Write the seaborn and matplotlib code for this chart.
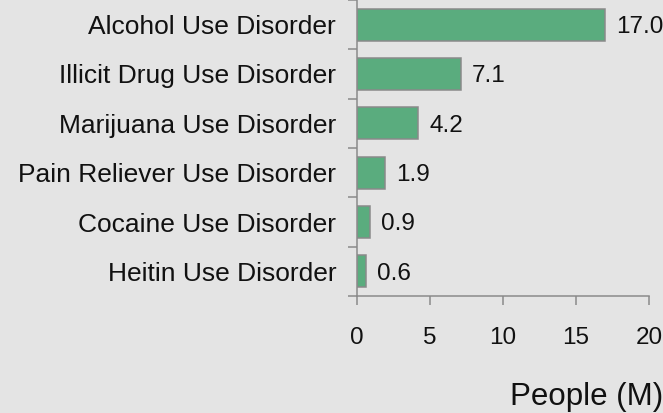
import numpy as np
import pandas as pd
import matplotlib
matplotlib.use("Agg")
import matplotlib.pyplot as plt
import seaborn as sns

# datos
categorias = ["Alcohol Use Disorder", "Illicit Drug Use Disorder", "Marijuana Use Disorder",
              "Pain Reliever Use Disorder", "Cocaine Use Disorder", "Heitin Use Disorder"]
personas = [17.0, 7.1, 4.2, 1.9, 0.9, 0.6]
ticks_x = [0, 5, 10, 15, 20]

fondo = "#e4e4e4"
gris = "#8a8a8a"
verde = "#5aac7e"

sns.set_style("white")
plt.rcParams["font.family"] = ["Liberation Sans", "DejaVu Sans"]

datos = pd.DataFrame({"categoria": categorias, "personas": personas})

fig = plt.figure(figsize=(6.63, 4.13), dpi=100, facecolor=fondo)
ax = fig.add_axes([357 / 663, 117 / 413, 292 / 663, 296 / 413])
ax.set_facecolor(fondo)

sns.barplot(data=datos, x="personas", y="categoria", orient="h", color=verde,
            saturation=1, width=0.645, edgecolor=gris, linewidth=1.1, ax=ax)

etiquetas = ax.bar_label(ax.containers[0], fmt="%.1f", padding=8, fontsize=17.5,
                         color="#111111")
for t in etiquetas:
    t.set_va("center_baseline")

ax.set_xlim(0, 20)
ax.set_ylim(5.5, -0.445)
ax.set_xticks(ticks_x)
ax.set_xticklabels([str(t) for t in ticks_x])
ax.set_xlabel("")
ax.set_ylabel("")

# etiquetas sin marca, marcas entre categorias
ax.tick_params(axis="y", which="major", length=0, pad=15, labelsize=19, labelcolor="#111111")
ax.set_yticks(np.arange(-0.5, 5.6, 1.0), minor=True)
ax.tick_params(axis="y", which="minor", length=6.5, width=1.1, color=gris, left=True)
ax.tick_params(axis="x", which="major", length=6.5, width=1.1, color=gris, bottom=True,
               pad=15.5, labelsize=17.5, labelcolor="#111111")

for lado in ["top", "right"]:
    ax.spines[lado].set_visible(False)
for lado in ["left", "bottom"]:
    ax.spines[lado].set_color(gris)
    ax.spines[lado].set_linewidth(1.1)

fig.text(663 / 663, (413 - 397) / 413, "People (M)", ha="right", va="center",
         fontsize=22.5, color="#111111")

fig.savefig("out.png", dpi=100, facecolor=fondo)
